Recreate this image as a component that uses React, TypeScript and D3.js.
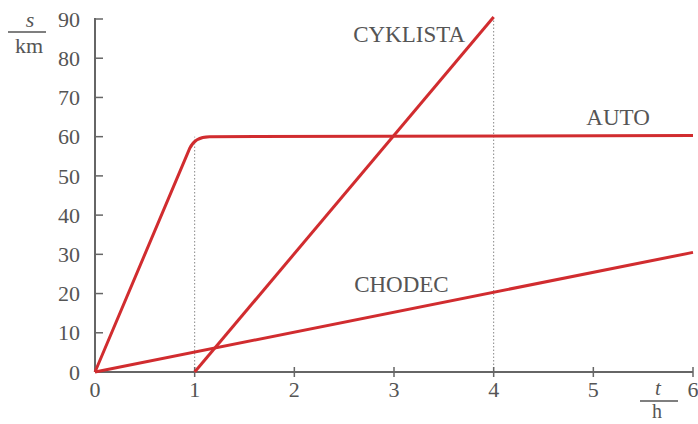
import React from "react";
import * as d3 from "d3";

const xTicks = [0, 1, 2, 3, 4, 5, 6];
const yTicks = [0, 10, 20, 30, 40, 50, 60, 70, 80, 90];
// AUTO: accelerates to 60 km at t=1, then constant
const autoPts: [number, number][] = [[0, 0], [0.95, 57], [1, 60], [1.15, 60], [6, 60.3]];
const cyklistaPts: [number, number][] = [[1, 0], [4, 90.5]];
const chodecPts: [number, number][] = [[0, 0], [6, 30.5]];
const guides: [number, number][] = [[1, 60], [4, 90]];
const labels = [
  { text: "CYKLISTA", x: 2.59, y: 84.1 },
  { text: "AUTO", x: 4.93, y: 63.0 },
  { text: "CHODEC", x: 2.6, y: 20.4 },
];

const RED = "#d12c2f";
const GRAY = "#666";
const TXT = "#555";

export default function App() {
  const W = 698, H = 424;
  const x = d3.scaleLinear().domain([0, 6]).range([95, 693]);
  const y = d3.scaleLinear().domain([0, 90]).range([372, 19]);

  const line = d3.line<[number, number]>().x(d => x(d[0])).y(d => y(d[1]));

  const p = d3.path();
  p.moveTo(x(autoPts[0][0]), y(autoPts[0][1]));
  p.lineTo(x(autoPts[1][0]), y(autoPts[1][1]));
  p.quadraticCurveTo(x(autoPts[2][0]), y(autoPts[2][1]), x(autoPts[3][0]), y(autoPts[3][1]));
  p.lineTo(x(autoPts[4][0]), y(autoPts[4][1]));

  const font = "'Liberation Serif', 'Times New Roman', serif";

  return (
    <svg width={W} height={H} style={{ position: "absolute", left: 0, top: 0, background: "#fff" }} fontFamily={font}>
      {/* guides */}
      {guides.map(([gx, gy], i) => (
        <line key={i} x1={x(gx)} x2={x(gx)} y1={y(0)} y2={y(gy)} stroke="#888" strokeWidth={1} strokeDasharray="1.5,2" />
      ))}
      {/* axes */}
      <line x1={x(0)} x2={x(0)} y1={y(0)} y2={y(90) - 1} stroke={GRAY} strokeWidth={2} />
      <line x1={x(0)} x2={x(6)} y1={y(0)} y2={y(0)} stroke={GRAY} strokeWidth={2} />
      {yTicks.map(t => (
        <g key={"y" + t}>
          {t > 0 && <line x1={x(0)} x2={x(0) + 8} y1={y(t)} y2={y(t)} stroke={GRAY} strokeWidth={1.5} />}
          <text x={80} y={y(t)} dy="0.35em" textAnchor="end" fontSize={22} fill={TXT}>{t}</text>
        </g>
      ))}
      {xTicks.map(t => (
        <g key={"x" + t}>
          {t > 0 && <line x1={x(t)} x2={x(t)} y1={y(0) - 5} y2={y(0) + 5} stroke={GRAY} strokeWidth={1.5} />}
          <text x={x(t)} y={y(0) + 25} textAnchor="middle" fontSize={22} fill={TXT}>{t}</text>
        </g>
      ))}
      {/* axis labels */}
      <text x={30} y={27} textAnchor="middle" fontSize={22} fontStyle="italic" fill={TXT}>s</text>
      <line x1={8} x2={46} y1={32} y2={32} stroke={TXT} strokeWidth={1.3} />
      <text x={29} y={53} textAnchor="middle" fontSize={22} fill={TXT}>km</text>
      <text x={658} y={395} textAnchor="middle" fontSize={21} fontStyle="italic" fill={TXT}>t</text>
      <line x1={640} x2={678} y1={401} y2={401} stroke={TXT} strokeWidth={1.3} />
      <text x={657} y={418} textAnchor="middle" fontSize={20} fill={TXT}>h</text>
      {/* series */}
      <path d={line(chodecPts) || ""} fill="none" stroke={RED} strokeWidth={3} />
      <path d={line(cyklistaPts) || ""} fill="none" stroke={RED} strokeWidth={3} />
      <path d={p.toString()} fill="none" stroke={RED} strokeWidth={3} />
      {labels.map(l => (
        <text key={l.text} x={x(l.x)} y={y(l.y)} fontSize={23} fill={TXT}>{l.text}</text>
      ))}
    </svg>
  );
}
